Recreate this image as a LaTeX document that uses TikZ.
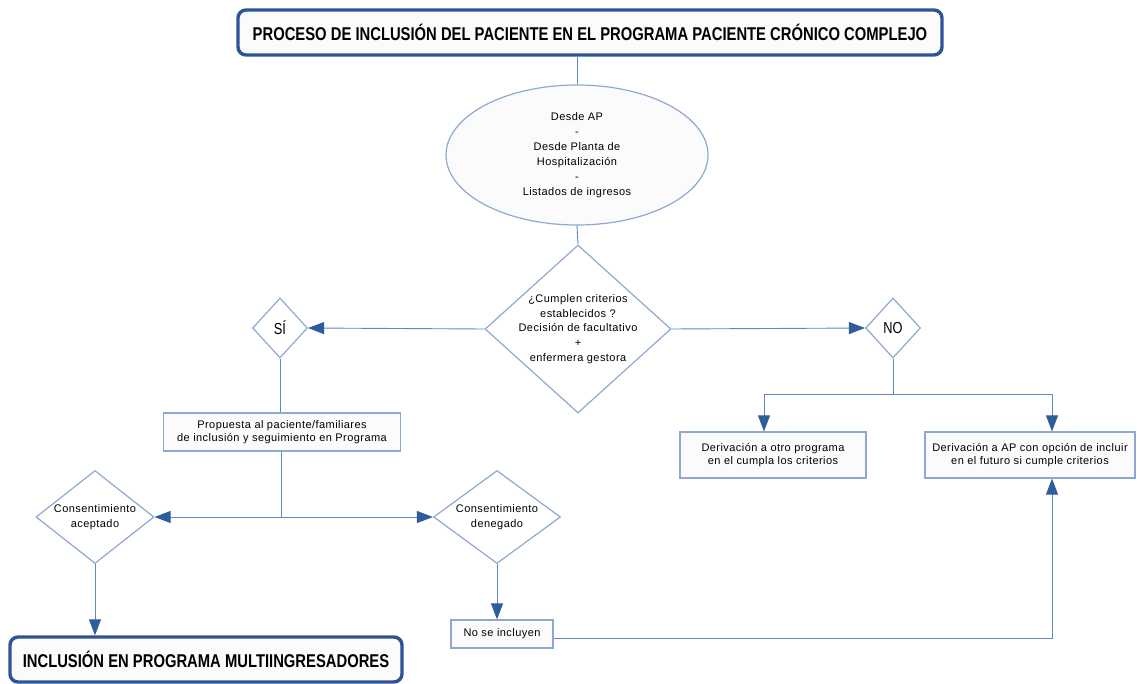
\documentclass[tikz,border=0pt]{standalone}
\usepackage{fontspec}
\setmainfont{Liberation Sans}
\newfontfamily\titlefont[FakeStretch=0.80]{Liberation Sans}
\newfontfamily\bodyfont[LetterSpace=4]{Liberation Sans}
\usetikzlibrary{shapes.geometric,arrows.meta}
\definecolor{lineblue}{HTML}{5F88C2}
\definecolor{tipblue}{HTML}{2E5D9E}
\definecolor{boxblue}{HTML}{8DA9D3}
\definecolor{titleblue}{HTML}{2F5496}
\definecolor{boxfill}{HTML}{FBFBFB}
\tikzset{
  conn/.style={draw=lineblue, line width=0.9pt},
  arr/.style={conn, -{Triangle[length=16pt,width=12pt,fill=tipblue,color=tipblue]}},
  procbox/.style={draw=boxblue, line width=1.2pt, fill=boxfill, rectangle, inner sep=0pt, align=center, font=\bodyfont\fontsize{11}{13.5}\selectfont},
  decision/.style={draw=boxblue, line width=1.2pt, fill=white, diamond, inner sep=0pt},
  dtext/.style={align=center, font=\bodyfont\fontsize{11}{14.6}\selectfont},
  ctext/.style={align=center, font=\bodyfont\fontsize{11}{15}\selectfont},
  bigbox/.style={draw=titleblue, line width=3.4pt, fill=boxfill, rounded corners=8pt, inner sep=0pt, font=\titlefont\bfseries\fontsize{18.5}{20}\selectfont},
}
\begin{document}
\begin{tikzpicture}[x=1pt,y=-1pt]
\useasboundingbox (0,0) rectangle (1137,684);
% nodes
\node[bigbox, minimum width=704pt, minimum height=45pt] (title) at (590,32.5) {PROCESO DE INCLUSIÓN DEL PACIENTE EN EL PROGRAMA PACIENTE CRÓNICO COMPLEJO};
\node[ellipse, draw=boxblue, line width=1.2pt, fill=boxfill, minimum width=262pt, minimum height=140pt, inner sep=0pt, align=center, font=\bodyfont\fontsize{11}{15}\selectfont] (orig) at (577,155) {Desde AP\\-\\Desde Planta de\\Hospitalización\\-\\Listados de ingresos};
\node[decision, minimum width=186pt, minimum height=168pt, label={[dtext]center:¿Cumplen criterios\\establecidos ?\\Decisión de facultativo\\+\\enfermera gestora}] (crit) at (578,329) {};
\node[decision, minimum width=55pt, minimum height=60pt, label={[font=\titlefont\fontsize{16}{18}\selectfont]center:SÍ}] (si) at (280,328) {};
\node[decision, minimum width=55pt, minimum height=60pt, label={[font=\titlefont\fontsize{16}{18}\selectfont]center:NO}] (no) at (893,328) {};
\node[procbox, minimum width=237pt, minimum height=38pt] (prop) at (282,432) {Propuesta al paciente/familiares\\de inclusión y seguimiento en Programa};
\node[procbox, minimum width=186pt, minimum height=46pt] (der1) at (773,455) {Derivación a otro programa\\en el cumpla los criterios};
\node[procbox, minimum width=210pt, minimum height=46pt] (der2) at (1030,455) {Derivación a AP con opción de incluir\\en el futuro si cumple criterios};
\node[decision, minimum width=118pt, minimum height=93pt, label={[ctext, yshift=-0.5pt]center:Consentimiento\\aceptado}] (acep) at (95,517) {};
\node[decision, minimum width=127pt, minimum height=93pt, label={[ctext, yshift=-0.5pt]center:Consentimiento\\denegado}] (deneg) at (497,517) {};
\node[procbox, minimum width=102pt, minimum height=28pt] (nose) at (502,634) {No se incluyen};
\node[bigbox, minimum width=392pt, minimum height=45pt] (final) at (206,659.5) {INCLUSIÓN EN PROGRAMA MULTIINGRESADORES};
% helper coordinates
\coordinate (nosplit) at (893,394);
\coordinate (pj) at (281,517);
% connectors
\draw[conn] (orig.north |- title.south) -- (orig.north);
\draw[conn] (orig.south) -- (crit.north);
\draw[arr] (crit.west) -- (si.east);
\draw[arr] (crit.east) -- (no.west);
\draw[conn] (si.south) -- (si.south |- prop.north);
\draw[conn] (no.south) -- (nosplit);
\draw[arr] (nosplit) -| ([xshift=-9pt]der1.north);
\draw[arr] (nosplit) -| ([xshift=22pt]der2.north);
\draw[conn] (prop.south -| pj) -- (pj);
\draw[arr] (pj) -- (acep.east);
\draw[arr] (pj) -- (deneg.west);
\draw[arr] (acep.south) -- (acep.south |- final.north);
\draw[arr] (deneg.south) -- (deneg.south |- nose.north);
\draw[arr] ([yshift=-4pt]nose.east) -| ([xshift=22pt]der2.south);
\end{tikzpicture}
\end{document}
